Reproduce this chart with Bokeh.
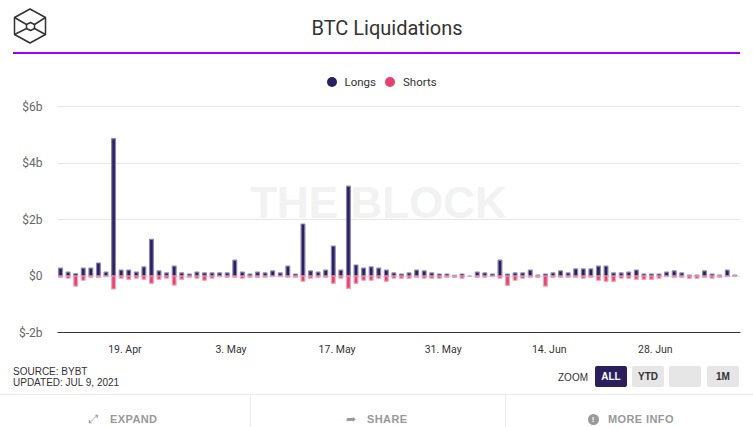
import pandas as pd
from bokeh.plotting import figure
from bokeh.layouts import column
from bokeh.models import (ColumnDataSource, Range1d, FixedTicker, CustomJSTickFormatter,
                          Legend, LegendItem, Label, Div)
from bokeh.embed import file_html
from bokeh.resources import INLINE

# ---------------- data ----------------
TITLE = "BTC Liquidations"
SERIES = ["Longs", "Shorts"]
FIRST_DAY = "2021-04-10 12:00"          # one bar per day
LONGS = [0.28, 0.14, 0.08, 0.28, 0.28, 0.46, 0.14, 4.86, 0.21, 0.21,
         0.14, 0.32, 1.30, 0.18, 0.11, 0.35, 0.11, 0.07, 0.14, 0.11,
         0.11, 0.11, 0.11, 0.56, 0.14, 0.07, 0.14, 0.11, 0.18, 0.11,
         0.35, 0.07, 1.84, 0.18, 0.14, 0.21, 1.06, 0.21, 3.18, 0.39,
         0.28, 0.32, 0.28, 0.21, 0.11, 0.07, 0.11, 0.21, 0.18, 0.11,
         0.07, 0.07, 0.02, 0.07, 0.00, 0.14, 0.11, 0.07, 0.56, 0.07,
         0.11, 0.11, 0.21, 0.03, 0.07, 0.11, 0.18, 0.11, 0.25, 0.25,
         0.25, 0.35, 0.35, 0.11, 0.11, 0.14, 0.21, 0.07, 0.07, 0.07,
         0.14, 0.18, 0.11, 0.03, 0.03, 0.18, 0.07, 0.03, 0.21, 0.03]
SHORTS = [0.05, 0.08, 0.36, 0.15, 0.05, 0.05, 0.02, 0.46, 0.08, 0.12,
          0.08, 0.12, 0.26, 0.12, 0.08, 0.32, 0.12, 0.05, 0.08, 0.15,
          0.08, 0.02, 0.05, 0.05, 0.08, 0.05, 0.05, 0.05, 0.02, 0.02,
          0.05, 0.05, 0.19, 0.08, 0.05, 0.05, 0.26, 0.08, 0.44, 0.26,
          0.15, 0.15, 0.08, 0.19, 0.08, 0.08, 0.08, 0.05, 0.08, 0.08,
          0.08, 0.05, 0.05, 0.08, 0.00, 0.05, 0.05, 0.02, 0.08, 0.33,
          0.15, 0.08, 0.05, 0.05, 0.36, 0.05, 0.05, 0.05, 0.05, 0.08,
          0.05, 0.15, 0.19, 0.19, 0.08, 0.08, 0.12, 0.12, 0.12, 0.08,
          0.02, 0.05, 0.05, 0.08, 0.08, 0.05, 0.08, 0.05, 0.02, 0.00]
TICK_DATES = ["2021-04-19", "2021-05-03", "2021-05-17", "2021-05-31", "2021-06-14", "2021-06-28"]
Y_TICKS = [-2, 0, 2, 4, 6]
SOURCE_LINES = ["SOURCE: BYBT", "UPDATED: JUL 9, 2021"]
ZOOM_LABEL = "ZOOM"
BUTTON_LABELS = ["ALL", "YTD", "", "1M"]
FOOTER_ACTIONS = ["EXPAND", "SHARE", "MORE INFO"]
WATERMARK = "THE BLOCK"

LONG_COLOR = "#2b1f5e"
LONG_EDGE = "#8c85b3"
SHORT_COLOR = "#e8416d"
SHORT_EDGE = "#f3a3b9"

# ---------------- page geometry (window pixels, body margin is 0) ----------------
WIDTH, HEIGHT = 753, 427
HEAD_H, FOOT_H = 60, 65
FIG_H = HEIGHT - HEAD_H - FOOT_H
FR_L, FR_R, FR_B = 57, 740, 332          # plot frame edges
Y6_PX = 106                              # pixel row of the $6b grid line
FR_T = HEAD_H                            # frame extends up to hold the legend
Y_MIN, Y_MAX = Y_TICKS[0], Y_TICKS[-1]
y_top = Y_MAX + (Y6_PX - FR_T) * (Y_MAX - Y_MIN) / (FR_B - Y6_PX)


def sx(X):          # window x -> screen units (from frame left)
    return X - FR_L


def sy(Y):          # window y -> screen units (up from frame bottom)
    return FR_B - Y


# ---------------- header (HTML) ----------------
outer = [(30, 9), (45.5, 17.5), (45.5, 34.5), (30, 43), (14.5, 34.5), (14.5, 17.5)]
inner = [(30.5, 22.5), (34.5, 24.5), (34.5, 28.5), (30.5, 30.5), (26.5, 28.5), (26.5, 24.5)]
pts = lambda ps: " ".join(f"{a},{b}" for a, b in ps)
links = "".join(f'<line x1="{inner[k][0]}" y1="{inner[k][1]}" x2="{outer[k][0]}" y2="{outer[k][1]}"/>'
                for k in (1, 2, 4, 5))
header_html = f"""
<div style="position:relative;width:{WIDTH}px;height:{HEAD_H}px;overflow:hidden;background:#fff;">
 <svg width="60" height="{HEAD_H}" style="position:absolute;left:0;top:0"
      fill="none" stroke="#333333" stroke-width="1.5" stroke-linejoin="round">
  <polygon points="{pts(outer)}"/><polygon points="{pts(inner)}"/>{links}
 </svg>
 <div style="position:absolute;left:237px;top:15px;width:300px;text-align:center;
      font-family:Roboto;font-size:20px;line-height:26px;color:#333333;">{TITLE}</div>
 <div style="position:absolute;left:13px;top:52px;width:727px;height:1.5px;background:#9900ff;"></div>
</div>"""
header = Div(text=header_html, width=WIDTH, height=HEAD_H, margin=0)

# ---------------- chart ----------------
dates = pd.date_range(FIRST_DAY, periods=len(LONGS), freq="D")
source = ColumnDataSource(dict(date=dates, longs=LONGS, shorts=[-v for v in SHORTS]))
DAY = pd.Timedelta(days=1)
x_start = (dates[0] - 0.4 * DAY).to_pydatetime()
x_end = (dates[-1] + 0.75 * DAY).to_pydatetime()

p = figure(width=WIDTH, height=FIG_H, x_axis_type="datetime",
           x_range=Range1d(x_start, x_end), y_range=Range1d(Y_MIN, y_top),
           toolbar_location=None, output_backend="svg",
           min_border_left=FR_L, min_border_right=WIDTH - FR_R,
           min_border_top=0, min_border_bottom=HEAD_H + FIG_H - FR_B)
p.outline_line_color = None

# watermark behind the bars
p.add_layout(Label(x=sx(378), y=sy(202), x_units="screen", y_units="screen", text=WATERMARK,
                   text_align="center", text_baseline="middle", text_font="Liberation Sans",
                   text_font_style="bold", text_font_size="44px", text_color="#f2f2f2",
                   level="underlay"))

bar_w = 0.5 * 86400000
p.vbar(x="date", top="longs", bottom=0, width=bar_w, source=source,
       fill_color=LONG_COLOR, line_color=LONG_EDGE, line_width=1.2)
p.vbar(x="date", top=0, bottom="shorts", width=bar_w, source=source,
       fill_color=SHORT_COLOR, line_color=SHORT_EDGE, line_width=1.2)

tick_ms = [pd.Timestamp(d).value // 10**6 for d in TICK_DATES]
p.xaxis.ticker = FixedTicker(ticks=tick_ms)
p.xaxis.formatter = CustomJSTickFormatter(code="""
const d = new Date(tick);
const m = ["Jan","Feb","Mar","Apr","May","Jun","Jul","Aug","Sep","Oct","Nov","Dec"][d.getUTCMonth()];
return d.getUTCDate() + ". " + m;
""")
p.xaxis.axis_line_color = "#333333"
p.xaxis.axis_line_width = 1
p.xaxis.major_tick_line_color = None
p.xaxis.minor_tick_line_color = None
p.xaxis.major_tick_out = 0
p.xaxis.major_tick_in = 0
p.xaxis.major_label_standoff = 10
p.xaxis.major_label_text_font = "Roboto"
p.xaxis.major_label_text_font_size = "10.5px"
p.xaxis.major_label_text_color = "#333333"

p.yaxis.ticker = FixedTicker(ticks=Y_TICKS)
p.yaxis.formatter = CustomJSTickFormatter(code="""
return tick == 0 ? "$0" : "$" + tick + "b";
""")
p.yaxis.axis_line_color = None
p.yaxis.major_tick_line_color = None
p.yaxis.minor_tick_line_color = None
p.yaxis.major_tick_out = 0
p.yaxis.major_tick_in = 0
p.yaxis.major_label_standoff = 15
p.yaxis.major_label_text_font = "Roboto"
p.yaxis.major_label_text_font_size = "12px"
p.yaxis.major_label_text_color = "#666666"

p.xgrid.visible = False
p.ygrid.ticker = FixedTicker(ticks=Y_TICKS)
p.ygrid.grid_line_color = "#e6e6e6"

# legend-only markers (a single NaN point, so nothing shows in the plot area)
nan_src = ColumnDataSource(dict(x=[dates[0]], y=[float("nan")]))
dot_l = p.scatter(x="x", y="y", source=nan_src, marker="circle", size=10,
                  fill_color=LONG_COLOR, line_color=None)
dot_s = p.scatter(x="x", y="y", source=nan_src, marker="circle", size=10,
                  fill_color=SHORT_COLOR, line_color=None)
legend = Legend(items=[LegendItem(label=SERIES[0], renderers=[dot_l], index=0),
                       LegendItem(label=SERIES[1], renderers=[dot_s], index=0)],
                orientation="horizontal", location=(sx(318.5), sy(69.2) - 25),
                glyph_width=25, glyph_height=25, label_standoff=1, spacing=1,
                padding=0, margin=0, border_line_color=None, background_fill_alpha=0,
                label_text_font="Roboto", label_text_font_size="11.5px",
                label_text_color="#333333")
p.add_layout(legend, "center")

# ---------------- footer (HTML) ----------------
T0 = HEAD_H + FIG_H        # window y of the footer top


def at(left, top, inner_html, style=""):
    return (f'<div style="position:absolute;left:{left}px;top:{top - T0}px;{style}">'
            f'{inner_html}</div>')


font10 = "font-family:'Liberation Sans';font-size:10px;line-height:11px;color:#333333;white-space:nowrap;"
parts = [at(13, 366, SOURCE_LINES[0], font10), at(13, 377, SOURCE_LINES[1], font10),
         at(540, 371.5, ZOOM_LABEL, font10 + "width:48px;text-align:right;")]
btn_left = [595, 632, 669, 707]
btn_fill = [LONG_COLOR, "#e6e6e6", "#e6e6e6", "#e6e6e6"]
btn_text = ["#ffffff", "#333333", "#333333", "#333333"]
for bl, fc, tc, t in zip(btn_left, btn_fill, btn_text, BUTTON_LABELS):
    parts.append(at(bl, 366, t,
                    f"width:32px;height:21px;border-radius:2px;background:{fc};color:{tc};"
                    "text-align:center;font-family:'Liberation Sans';font-weight:bold;"
                    "font-size:10px;line-height:21px;"))
parts.append(at(0, 394, "", f"width:{WIDTH}px;height:1px;background:#ebebeb;"))
parts.append(at(250, 395, "", "width:1px;height:40px;background:#ebebeb;"))
parts.append(at(505, 395, "", "width:1px;height:40px;background:#ebebeb;"))
act = ("font-family:'Liberation Sans';font-weight:bold;font-size:11px;line-height:13px;"
       "color:#999999;letter-spacing:0.4px;white-space:nowrap;")
for X, t in zip([110, 367, 608], FOOTER_ACTIONS):
    parts.append(at(X, 413, t, act))
parts.append(at(89, 412.5, "\u2922", "font-family:'DejaVu Sans';font-size:12px;line-height:13px;color:#999999;"))
parts.append(at(346, 412.5, "\u27a6", "font-family:'DejaVu Sans';font-size:12px;line-height:13px;color:#999999;"))
parts.append(at(587.5, 414, "!", "width:11px;height:11px;border-radius:6px;background:#999999;"
                "color:#ffffff;font-family:'Liberation Sans';font-weight:bold;font-size:8px;"
                "line-height:11px;text-align:center;"))
footer_html = (f'<div style="position:relative;width:{WIDTH}px;height:{FOOT_H}px;'
               f'overflow:hidden;background:#fff;">' + "".join(parts) + "</div>")
footer = Div(text=footer_html, width=WIDTH, height=FOOT_H, margin=0)

layout = column(header, p, footer, spacing=0)
open("out.html", "w").write(file_html(layout, INLINE))
